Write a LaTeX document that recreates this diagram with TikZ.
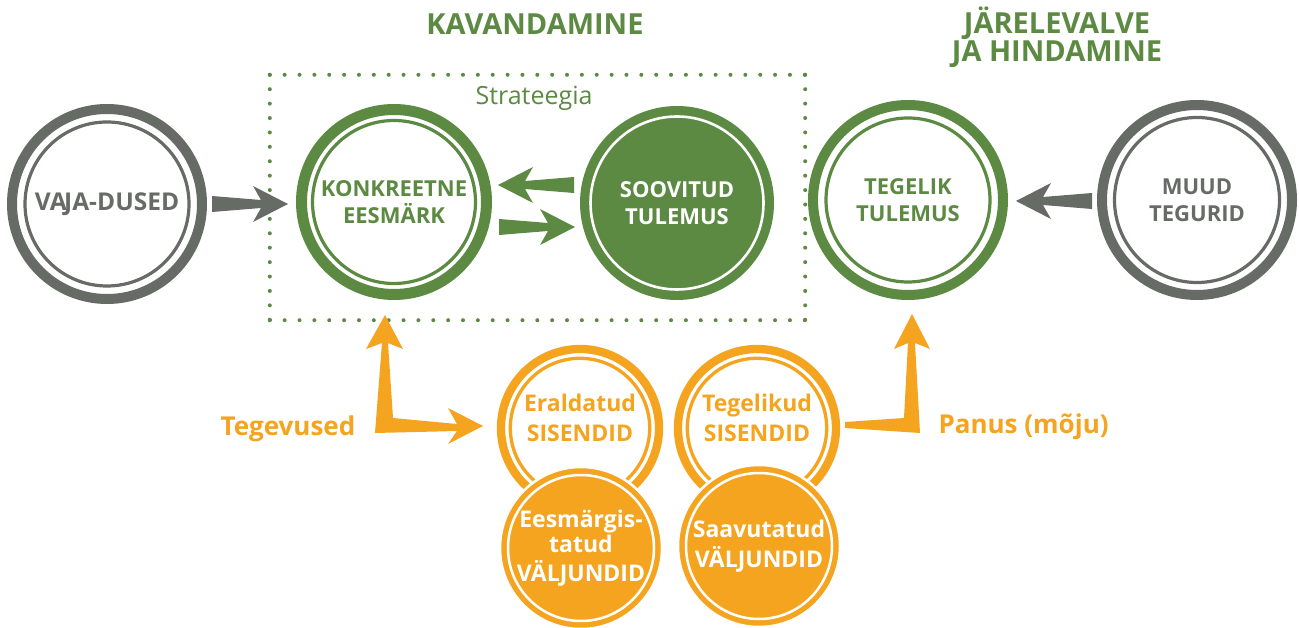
\documentclass[tikz,border=0pt]{standalone}
\usepackage{fontspec}
\setmainfont{Open Sans}
\usetikzlibrary{calc}
\definecolor{grn}{HTML}{5C8A42}
\definecolor{gry}{HTML}{666B66}
\definecolor{org}{HTML}{F5A41F}
\newcommand\fatarrow[4]{%
  \begin{scope}[shift={(#1)}, rotate=#2]
    \fill[#4] (0,0) -- (-35,-18) -- (-27,-4) -- (-#3,-8) -- (-#3,8) -- (-27,4) -- (-35,18) -- cycle;
  \end{scope}}
\tikzset{
  ringnode/.style={circle, draw=#1, fill=white, inner sep=0pt, minimum size=190pt, line width=10pt},
  thinring/.style={draw=#1, line width=3.2pt},
  ctext/.style={font=\bfseries\fontsize{22}{27}\selectfont, align=center, text=#1},
  otext/.style={font=\bfseries\fontsize{23}{30}\selectfont, align=center, text=#1},
  ttl/.style={font=\bfseries\fontsize{29}{28}\selectfont, align=center, text=grn},
  lbl/.style={font=\bfseries\fontsize{26}{30}\selectfont, text=org},
  dots/.style={grn, line width=4pt, line cap=round},
}
\begin{document}
\begin{tikzpicture}[x=1pt,y=-1pt]
\path[use as bounding box, fill=white] (0,0) rectangle (1299,628);

% titles
\node[ttl] (kav) at (535,24) {KAVANDAMINE};
\node[ttl] (jar) at (1057,37) {JÄRELEVALVE\\JA HINDAMINE};

% strategy frame
\node[minimum width=535pt, minimum height=245pt, inner sep=0pt] (strat) at (537.5,197.5) {};
\draw[dots, dash pattern=on 0pt off 14.861pt] (strat.north west) -- (strat.north east);
\draw[dots, dash pattern=on 0pt off 14.861pt] (strat.south west) -- (strat.south east);
\draw[dots, dash pattern=on 0pt off 14.41pt] (strat.north west) -- (strat.south west);
\draw[dots, dash pattern=on 0pt off 14.41pt] (strat.north east) -- (strat.south east);
\node[font=\fontsize{25}{30}\selectfont, text=grn, anchor=base] (stratT) at (534,105) {Strateegia};

% big circles
\node[ringnode=gry, ctext=gry, font=\bfseries\fontsize{24.5}{27}\selectfont] (vaja) at (107,204) {VA\kern-2.5pt JA-DUSED};
\draw[thinring=gry] (vaja.center) circle[radius=82pt];
\node[ringnode=grn, ctext=grn, minimum size=185pt, line width=11pt] (konk) at (394,202) {KONKREETNE\\EESMÄRK};
\draw[thinring=grn] (konk.center) circle[radius=81.5pt];
\node[circle, fill=grn, inner sep=0pt, minimum size=194pt, ctext=white] (soov) at (677,203) {SOOVITUD\\TULEMUS};
\draw[draw=white, line width=2.6pt] (soov.center) circle[radius=86.5pt];
\node[ringnode=grn, ctext=grn] (teg) at (908,200) {TEGELIK\\TULEMUS};
\draw[thinring=grn] (teg.center) circle[radius=82pt];
\node[ringnode=gry, ctext=gry] (muud) at (1197,200) {MUUD\\TEGURID};
\draw[thinring=gry] (muud.center) circle[radius=82.5pt];

% orange circles
\node[circle, draw=org, fill=white, line width=8.3pt, minimum size=158pt, inner sep=0pt] (era) at (580,428) {};
\draw[draw=org, line width=3.3pt] (era.center) circle[radius=69.7pt];
\node[otext=org] (eraT) at (580,418) {Eraldatud\\SISENDID};
\node[circle, draw=org, fill=white, line width=8.3pt, minimum size=158pt, inner sep=0pt] (tgl) at (757,428) {};
\draw[draw=org, line width=3.3pt] (tgl.center) circle[radius=69.7pt];
\node[otext=org] (tglT) at (757,418) {Tegelikud\\SISENDID};

\node[circle, fill=org, draw=white, line width=2.5pt, minimum size=162pt, inner sep=0pt, otext=white, font=\bfseries\fontsize{23}{25}\selectfont] (ees) at (581,548) {Eesmärgis-\\tatud\\[4pt]VÄLJUNDID};
\draw[draw=white, line width=2.5pt] (ees.center) circle[radius=73pt];
\node[circle, fill=org, draw=white, line width=2.5pt, minimum size=162pt, inner sep=0pt, otext=white] (saa) at (759,546) {Saavutatud\\VÄLJUNDID};
\draw[draw=white, line width=2.5pt] (saa.center) circle[radius=73pt];

% arrows
\coordinate (g1tip) at (288,204);
\fatarrow{g1tip}{0}{76}{gry}
\coordinate (g2tip) at (1016,201);
\fatarrow{g2tip}{180}{76}{gry}
\coordinate (gr1tip) at (498,185);
\fatarrow{gr1tip}{180}{76}{grn}
\coordinate (gr2tip) at (575,227);
\fatarrow{gr2tip}{0}{76}{grn}

% L-shaped orange arrows
\coordinate (lcorner) at (375,433);
\begin{scope}[shift={(lcorner)}]
  \fill[org] (0,0) -- (7,-90) -- (-9,-84) -- (10,-118) -- (28,-84) -- (13,-90) -- (18,-15)
    -- (82,-9) -- (73,-25) -- (108,-7) -- (73,11) -- (82,-2) -- cycle;
\end{scope}
\coordinate (rcorner) at (920,433);
\begin{scope}[shift={(rcorner)}]
  \fill[org] (-75,-11) -- (-16,-15) -- (-12,-90) -- (-26,-84) -- (-8,-119) -- (10,-84) -- (-5,-90)
    -- (0,0) -- (-75,-5) -- cycle;
\end{scope}

\node[lbl, anchor=base west] (tegev) at (217,435) {Tegevused};
\node[lbl, anchor=base west] (panus) at (935,433) {Panus (mõju)};
\end{tikzpicture}
\end{document}
